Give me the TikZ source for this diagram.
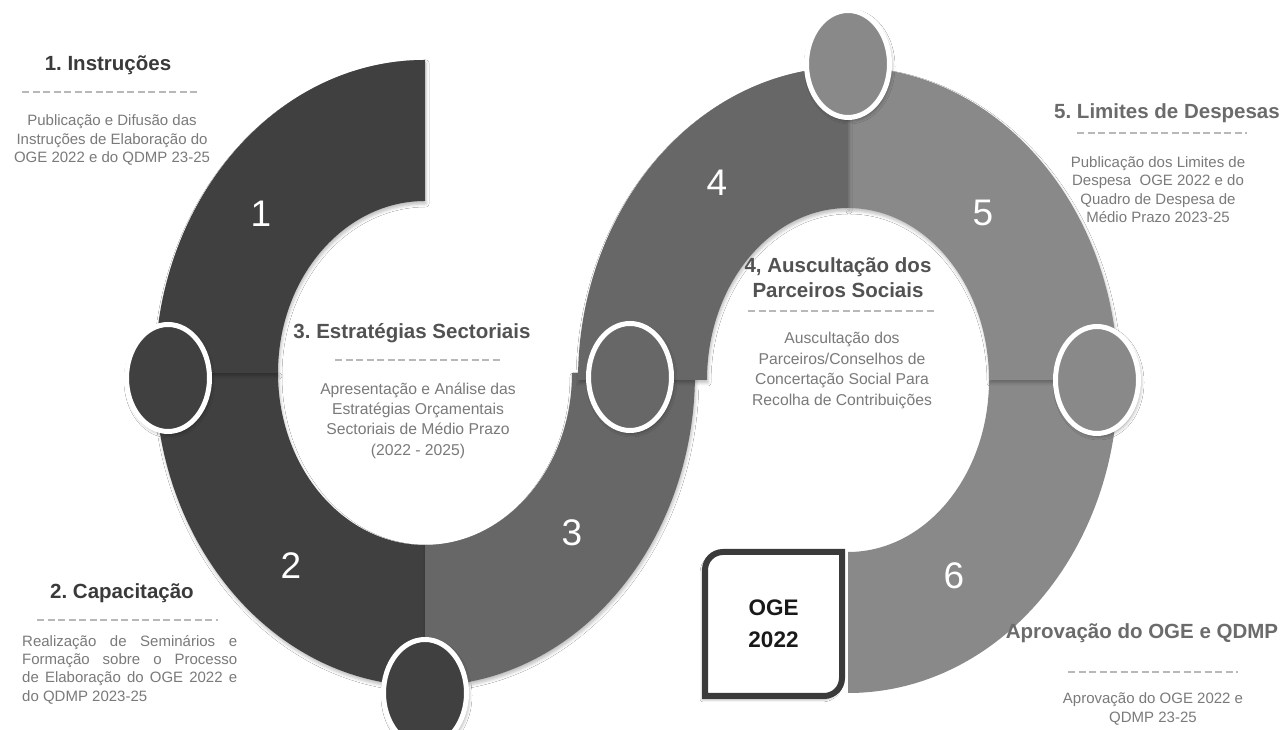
\documentclass[tikz,border=0pt]{standalone}
\usepackage{fontspec}
\setmainfont{Liberation Sans}
\frenchspacing
\usetikzlibrary{calc,shapes.geometric,shadows.blur}

\definecolor{darkgr}{HTML}{404040}
\definecolor{midgr}{HTML}{676767}
\definecolor{lightgr}{HTML}{898989}
\definecolor{bodygr}{HTML}{7A7A7A}
\definecolor{sepgr}{HTML}{B8B8B8}
\definecolor{framegr}{HTML}{3A3A3A}

\newcommand\titlefont{\fontsize{20.5}{25}\selectfont\bfseries}
\newcommand\bodyfont{\fontsize{15}{18.3}\selectfont}
\newcommand\bodyfontb{\fontsize{15.7}{20.4}\selectfont}

% one quarter of a ring: centre, from, to, inner x radius, inner y radius
\newcommand\ringseg[5]{($(#1)+(#2:270 and 313)$) arc[start angle=#2, end angle=#3, x radius=270, y radius=313]
  -- ($(#1)+(#3:#4 and #5)$) arc[start angle=#3, end angle=#2, x radius=#4, y radius=#5] -- cycle}

\tikzset{
  partshadow/.style={blur shadow={shadow xshift=1pt, shadow yshift=-3pt, shadow blur radius=3pt, shadow opacity=25}},
  marker/.style={ellipse, draw=white, line width=5pt, minimum width=83pt, minimum height=107pt,
    blur shadow={shadow xshift=1.5pt, shadow yshift=-2.5pt, shadow blur radius=4pt, shadow opacity=45}},
  num/.style={text=white, font=\fontsize{37}{40}\selectfont, inner sep=0pt},
  ttl/.style={font=\titlefont, align=center, inner sep=0pt},
  txt/.style={font=\bodyfont, text=bodygr, align=center, inner sep=0pt},
  sepline/.style={draw=sepgr, line width=2pt, dash pattern=on 7pt off 3.5pt},
  ogeframe/.style={draw=framegr, fill=white, line width=6pt,
    blur shadow={shadow xshift=-2pt, shadow yshift=-3pt, shadow blur radius=3pt, shadow opacity=50}}
}

\begin{document}
\begin{tikzpicture}[x=1pt, y=1pt]
  \useasboundingbox (0,0) rectangle (1287,730);
  \fill[white] (0,0) rectangle (1287,730);
  \coordinate (L) at (425,357);
  \coordinate (R) at (848,350);

  % ring quarters
  \fill[darkgr, partshadow] \ringseg{L}{180}{270}{147}{172};
  \fill[darkgr, partshadow] \ringseg{L}{90}{180}{147}{172};
  \fill[midgr, partshadow] \ringseg{L}{270}{360}{147}{172};
  \fill[lightgr] \ringseg{R}{270}{360}{141}{172};
  \fill[lightgr, partshadow] \ringseg{R}{0}{90}{141}{172};
  \fill[midgr, partshadow] \ringseg{R}{90}{180}{141}{172};

  \node[num] (n1) at (261,516) {1};
  \node[num] (n2) at (291,164) {2};
  \node[num] (n3) at (572,197) {3};
  \node[num] (n4) at (717,547) {4};
  \node[num] (n5) at (983,517) {5};
  \node[num] (n6) at (954,154) {6};

  % markers
  \node[marker, fill=darkgr] (m12) at (168,352) {};
  \node[marker, fill=darkgr] (m23) at (425,37) {};
  \node[marker, fill=midgr] (m34) at (630,353) {};
  \node[marker, fill=lightgr] (m45) at (848,666) {};
  \node[marker, fill=lightgr] (m56) at (1097,350) {};

  % OGE box
  \coordinate (ogeSW) at (705,34);
  \coordinate (ogeNE) at (842,178);
  \draw[ogeframe] (ogeSW) [rounded corners=18pt] -- (ogeSW |- ogeNE) [sharp corners] -- (ogeNE)
    [rounded corners=18pt] -- (ogeNE |- ogeSW) [sharp corners] -- cycle;
  \node[font=\fontsize{22.5}{32}\selectfont\bfseries, text=black!90, align=center] (oge)
    at ($(ogeSW)!0.5!(ogeNE)$) {OGE\\2022};

  % texts
  \node[ttl, text=framegr] (t1) at (108,665) {1. Instruções};
  \draw[sepline] (22,638) -- (200,638);
  \node[txt] (b1) at (112,590) {Publicação e Difusão das\\Instruções de Elaboração do\\OGE 2022 e do QDMP 23-25};

  \node[ttl, text=framegr] (t2) at (122,137) {2. Capacitação};
  \draw[sepline] (37,110) -- (218,110);
  \node[txt, anchor=west, text width=215pt, align=justify] (b2) at (22,60.5)
    {Realização de Seminários e\linebreak Formação sobre o Processo\linebreak de Elaboração do OGE 2022 e\linebreak do QDMP 2023-25};

  \node[ttl, text=black!68] (t3) at (412,397) {3. Estratégias Sectoriais};
  \draw[sepline] (335,370) -- (502,370);
  \node[txt, font=\bodyfontb] (b3) at (418,309.5) {Apresentação e Análise das\\Estratégias Orçamentais\\Sectoriais de Médio Prazo\\(2022 - 2025)};

  \node[ttl, text=black!68] (t4) at (838,452.5) {4, Auscultação dos\\Parceiros Sociais};
  \draw[sepline] (748,419) -- (937,419);
  \node[txt, font=\bodyfontb] (b4) at (842,359.5) {Auscultação dos\\Parceiros/Conselhos de\\Concertação Social Para\\Recolha de Contribuições};

  \node[ttl, text=black!58] (t5) at (1167,617) {5. Limites de Despesas};
  \draw[sepline] (1077,597) -- (1247,597);
  \node[txt] (b5) at (1158,540.5) {Publicação dos Limites de\\Despesa~ OGE 2022 e do\\Quadro de Despesa de\\Médio Prazo 2023-25};

  \node[ttl, text=black!58] (t6) at (1142,97) {Aprovação do OGE e QDMP};
  \draw[sepline] (1068,58) -- (1238,58);
  \node[txt] (b6) at (1153,21) {Aprovação do OGE 2022 e\\QDMP 23-25};
\end{tikzpicture}
\end{document}
